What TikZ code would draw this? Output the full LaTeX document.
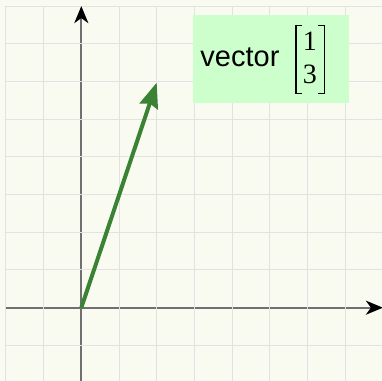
\documentclass[tikz,border=0pt]{standalone}
\usepackage{fontspec}
\setmainfont{Liberation Serif}
\setsansfont{Liberation Sans}
\usetikzlibrary{arrows.meta}
\definecolor{bg}{RGB}{250,251,240}
\definecolor{gridc}{RGB}{226,226,226}
\definecolor{axisc}{RGB}{112,112,112}
\definecolor{vecc}{RGB}{58,130,52}
\definecolor{boxc}{RGB}{204,255,204}
\begin{document}
\begin{tikzpicture}[x=37.7pt,y=37.7pt,
  gridline/.style={draw=gridc,line width=1pt},
  tickmark/.style={draw=gridc,line width=1pt},
  axisline/.style={draw=axisc,line width=2.2pt,-{Stealth[length=17pt,width=14pt,inset=5pt,color=black]}},
  vecline/.style={draw=vecc,line width=4pt,-{Stealth[length=25pt,width=19pt,inset=3pt]}},
  labelbox/.style={fill=boxc,draw=none,minimum width=156.3pt,minimum height=88pt,inner sep=0pt},
  labeltext/.style={font=\sffamily\fontsize{29}{34}\selectfont,inner sep=0pt},
  mattext/.style={font=\fontsize{28}{34}\selectfont,inner sep=0pt,anchor=base},
  bracketv/.style={draw=black,line width=1.6pt},
  bracketh/.style={draw=black,line width=0.9pt}]
\useasboundingbox (-2.157,-1.944) rectangle (7.976,8.162);
\fill[bg] (-2.157,-1.944) rectangle (7.976,8.162);
% grid
\draw[gridline,step=37.7pt] (-2,-2) grid (8.2,8);
% axes
\coordinate (O) at (0,0);
\coordinate (xs) at (-2,0);
\coordinate (xe) at (8,0);
\coordinate (ys) at (0,-2.1);
\coordinate (ye) at (0,8);
\draw[axisline] (xs) -- (xe);
\draw[axisline] (ys) -- (ye);
% tick marks across the axes
\foreach \i in {-2,-1,1,2,3,4,5,6,7}{
  \draw[tickmark] (\i,-0.06) -- (\i,0.06);
}
\foreach \j in {-1,1,2,3,4,5,6,7}{
  \draw[tickmark] (-0.06,\j) -- (0.06,\j);
}
% label box
\node[labelbox] (lbl) at (5.030,6.597) {};
\node[labeltext,anchor=base west] (vtxt) at (3.156,6.392) {vector};
\node[mattext] (m1) at (6.066,6.817) {1};
\node[mattext] (m3) at (6.066,5.934) {3};
% brackets
\draw[bracketv] (5.695,7.499) -- (5.695,5.669);
\draw[bracketh] (5.675,7.487) -- (5.846,7.487);
\draw[bracketh] (5.675,5.681) -- (5.846,5.681);
\draw[bracketv] (6.446,7.499) -- (6.446,5.669);
\draw[bracketh] (6.466,7.487) -- (6.286,7.487);
\draw[bracketh] (6.466,5.681) -- (6.286,5.681);
% vector
\coordinate (v) at (2,5.97);
\draw[vecline] (O) -- (v);
\end{tikzpicture}
\end{document}
